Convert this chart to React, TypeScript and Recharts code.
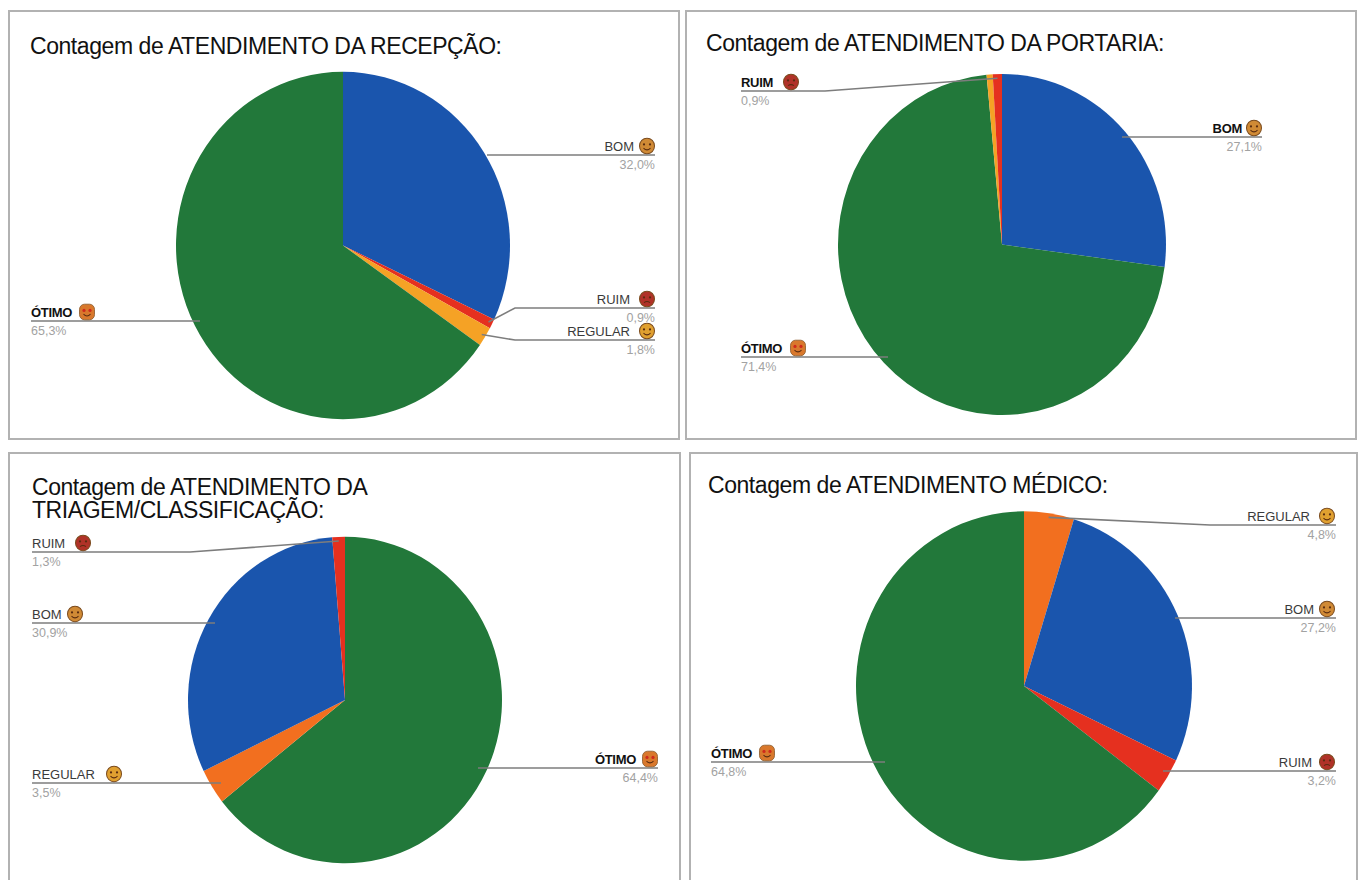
import { PieChart, Pie, Cell } from "recharts";

// vertical stretch of the whole board, the pies come out slightly taller than wide
const STRETCH = 1.04;
const RAD = Math.PI / 180;

const recepcaoNames = ["BOM", "RUIM", "REGULAR", "ÓTIMO"];
const recepcaoValues = [32.0, 0.9, 1.8, 65.3];
const portariaNames = ["BOM", "ÓTIMO", "REGULAR", "RUIM"];
const portariaValues = [27.1, 71.4, 0.6, 0.9];
const triagemNames = ["ÓTIMO", "REGULAR", "BOM", "RUIM"];
const triagemValues = [64.4, 3.5, 30.9, 1.3];
const medicoNames = ["REGULAR", "BOM", "RUIM", "ÓTIMO"];
const medicoValues = [4.8, 27.2, 3.2, 64.8];

const toRows = (names: string[], values: number[]) => names.map((name, i) => ({ name, value: values[i] }));

const colors: Record<string, string> = { BOM: "#1a55ad", RUIM: "#e5301f", ÓTIMO: "#22783a", REGULAR: "#f0802a" };
const faceColors: Record<string, string> = { BOM: "#d08a35", RUIM: "#b03228", ÓTIMO: "#d9782c", REGULAR: "#e0a030" };

type Spot = {
  side: "L" | "R";
  lineX: number;
  y: number;
  elbowX: number;
  textX: number;
  faceX: number;
  bold?: boolean;
  straight?: boolean;
};

const panels = [
  {
    title: ["Contagem de ATENDIMENTO DA RECEPÇÃO:"], titleX: 30, titleY: 35,
    box: [8, 10, 672, 430], cx: 343, cy: 245.5, r: 167, regular: "#f5a225",
    rows: toRows(recepcaoNames, recepcaoValues),
    spots: {
      BOM: { side: "R", lineX: 655, y: 155, elbowX: 487, textX: 634, faceX: 647, straight: true },
      RUIM: { side: "R", lineX: 655, y: 308, elbowX: 515, textX: 630, faceX: 647 },
      REGULAR: { side: "R", lineX: 655, y: 340, elbowX: 515, textX: 630, faceX: 647 },
      ÓTIMO: { side: "L", lineX: 31, y: 321, elbowX: 200, textX: 31, faceX: 87, bold: true, straight: true },
    } as Record<string, Spot>,
  },
  {
    title: ["Contagem de ATENDIMENTO DA PORTARIA:"], titleX: 706, titleY: 32,
    box: [685, 10, 672, 430], cx: 1002, cy: 244.5, r: 164, regular: "#f5a225",
    rows: toRows(portariaNames, portariaValues),
    spots: {
      BOM: { side: "R", lineX: 1262, y: 137, elbowX: 1122, textX: 1242, faceX: 1254, bold: true, straight: true },
      RUIM: { side: "L", lineX: 741, y: 91, elbowX: 825, textX: 741, faceX: 791, bold: true },
      ÓTIMO: { side: "L", lineX: 741, y: 357, elbowX: 888, textX: 741, faceX: 798, bold: true, straight: true },
    } as Record<string, Spot>,
  },
  {
    title: ["Contagem de ATENDIMENTO DA", "TRIAGEM/CLASSIFICAÇÃO:"], titleX: 32, titleY: 476,
    box: [8, 452, 673, 440], cx: 345, cy: 700, r: 157, regular: "#f26f1f",
    rows: toRows(triagemNames, triagemValues),
    spots: {
      ÓTIMO: { side: "R", lineX: 658, y: 768, elbowX: 478, textX: 636, faceX: 650, bold: true, straight: true },
      REGULAR: { side: "L", lineX: 32, y: 783, elbowX: 221, textX: 32, faceX: 114, straight: true },
      BOM: { side: "L", lineX: 32, y: 623, elbowX: 215, textX: 32, faceX: 75, straight: true },
      RUIM: { side: "L", lineX: 32, y: 552, elbowX: 190, textX: 32, faceX: 83 },
    } as Record<string, Spot>,
  },
  {
    title: ["Contagem de ATENDIMENTO MÉDICO:"], titleX: 708, titleY: 474,
    box: [689, 452, 669, 440], cx: 1024, cy: 686, r: 168, regular: "#f26f1f",
    rows: toRows(medicoNames, medicoValues),
    spots: {
      REGULAR: { side: "R", lineX: 1336, y: 525, elbowX: 1210, textX: 1310, faceX: 1327 },
      BOM: { side: "R", lineX: 1336, y: 618, elbowX: 1175, textX: 1314, faceX: 1327, straight: true },
      RUIM: { side: "R", lineX: 1336, y: 771, elbowX: 1163, textX: 1312, faceX: 1327, straight: true },
      ÓTIMO: { side: "L", lineX: 711, y: 762, elbowX: 885, textX: 711, faceX: 767, bold: true, straight: true },
    } as Record<string, Spot>,
  },
];

const fmtPct = (v: number) => `${v.toFixed(1).replace(".", ",")}%`;

// small face standing in for the emoji next to each answer
function Face({ x, y, name }: { x: number; y: number; name: string }) {
  const sad = name === "RUIM";
  const loved = name === "ÓTIMO";
  const eye = loved ? "#cf2a1c" : "#5a2c10";
  return (
    <g>
      {loved ? (
        <rect x={x - 7.5} y={y - 7.5} width={15} height={15} rx={5} fill={faceColors[name]} stroke="#8a5a2a" strokeWidth={0.8} />
      ) : (
        <circle cx={x} cy={y} r={7.5} fill={faceColors[name]} stroke="#7a4a1c" strokeWidth={1} />
      )}
      <circle cx={x - 3} cy={y - 1.5} r={loved ? 1.6 : 1.1} fill={eye} />
      <circle cx={x + 3} cy={y - 1.5} r={loved ? 1.6 : 1.1} fill={eye} />
      <path
        d={sad ? `M${x - 3} ${y + 3.5}Q${x} ${y + 1.5} ${x + 3} ${y + 3.5}` : `M${x - 3.5} ${y + 2}Q${x} ${y + 5.5} ${x + 3.5} ${y + 2}`}
        fill="none"
        stroke="#5a2c10"
        strokeWidth={1}
      />
    </g>
  );
}

const sy = (y: number) => y / STRETCH;

const renderLabel = (spots: Record<string, Spot>) => (props: any) => {
  const { cx, cy, midAngle, outerRadius, name, value } = props;
  const spot = spots[name];
  if (!spot) return null;
  const startX = cx + (outerRadius - 4) * Math.cos(-midAngle * RAD);
  const startY = cy + (outerRadius - 4) * Math.sin(-midAngle * RAD);
  const anchor = spot.side === "R" ? "end" : "start";
  const leader = spot.straight ? "" : `${startX},${startY} `;
  return (
    <g>
      <polyline
        points={`${leader}${spot.elbowX},${sy(spot.y)} ${spot.lineX},${sy(spot.y)}`}
        fill="none"
        stroke="#7d7d7d"
        strokeWidth={1.5}
      />
      <text
        x={spot.textX}
        y={sy(spot.y - 4)}
        textAnchor={anchor}
        fontSize={13}
        fontWeight={spot.bold ? 700 : 400}
        letterSpacing={spot.bold ? -0.3 : 0}
        fill={spot.bold ? "#111" : "#3a3a3a"}
        fontFamily="Liberation Sans"
      >
        {name}
      </text>
      <Face x={spot.faceX} y={sy(spot.y - 9)} name={name} />
      <text x={spot.lineX} y={sy(spot.y + 14)} textAnchor={anchor} fontSize={12.5} fill="#a2a2a2" fontFamily="Liberation Sans">
        {fmtPct(value)}
      </text>
    </g>
  );
};

export default function App() {
  return (
    <div style={{ position: "absolute", left: 0, top: 0, width: 1359, height: 880, overflow: "hidden", background: "#fff" }}>
      {panels.map((p) => (
        <div
          key={p.titleY}
          style={{
            position: "absolute",
            left: p.box[0],
            top: p.box[1],
            width: p.box[2],
            height: p.box[3],
            border: "2px solid #b2b2b2",
            boxSizing: "border-box",
          }}
        />
      ))}
      {panels.map((p) => (
        <div
          key={p.titleX}
          style={{
            position: "absolute",
            left: p.titleX,
            top: p.titleY,
            fontFamily: "Liberation Sans",
            fontSize: 23,
            lineHeight: "23px",
            letterSpacing: -0.44,
            color: "#111",
            whiteSpace: "nowrap",
          }}
        >
          {p.title.map((t) => (
            <div key={t}>{t}</div>
          ))}
        </div>
      ))}
      <div style={{ position: "absolute", left: 0, top: 0, transform: `scaleY(${STRETCH})`, transformOrigin: "0 0" }}>
        <PieChart width={1359} height={880 / STRETCH} margin={{ top: 0, right: 0, bottom: 0, left: 0 }}>
          {panels.map((p) => (
            <Pie
              key={p.cx}
              data={p.rows}
              dataKey="value"
              nameKey="name"
              cx={p.cx}
              cy={p.cy / STRETCH}
              outerRadius={p.r}
              startAngle={90}
              endAngle={-270}
              stroke="none"
              label={renderLabel(p.spots)}
              labelLine={false}
              isAnimationActive={false}
            >
              {p.rows.map((row) => (
                <Cell key={row.name} fill={row.name === "REGULAR" ? p.regular : colors[row.name]} />
              ))}
            </Pie>
          ))}
        </PieChart>
      </div>
    </div>
  );
}
